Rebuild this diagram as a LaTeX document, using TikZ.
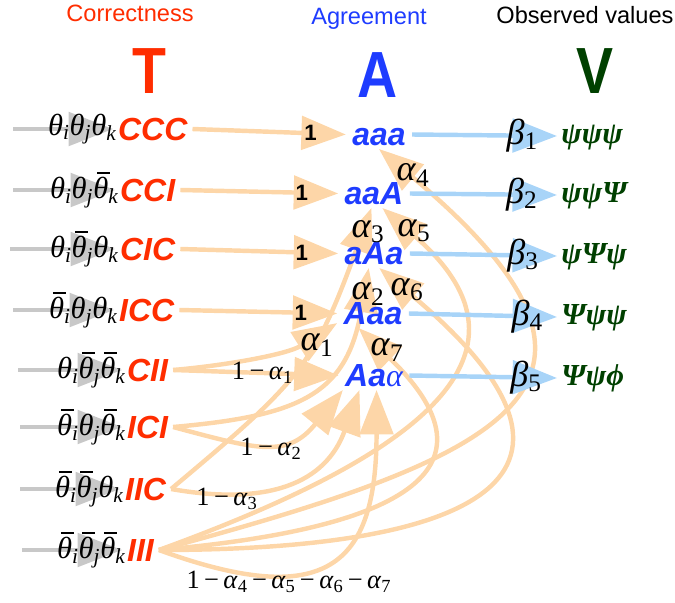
\documentclass[tikz,border=0pt]{standalone}
\usepackage{fontspec}
\setmainfont{Liberation Serif}
\setsansfont{Liberation Sans}
\usetikzlibrary{arrows.meta,positioning,backgrounds}

\definecolor{tred}{HTML}{FF2D00}
\definecolor{ablue}{HTML}{1E3CFF}
\definecolor{vgreen}{HTML}{004000}
\definecolor{peach}{HTML}{FDD6A8}
\definecolor{skyline}{HTML}{A8D4F8}
\definecolor{greyline}{HTML}{C8C8C8}

\newcommand{\thsub}[1]{\textit{θ}\textsubscript{\textit{#1}}}
\newcommand{\thbar}[1]{\makebox[0pt][l]{\hspace{0.12em}\rule[0.8em]{0.42em}{0.075em}}\thsub{#1}}
\newcommand{\alsub}[1]{\textit{α}\textsubscript{#1}}
\newcommand{\besub}[1]{\textit{β}\textsubscript{#1}}

\tikzset{
  toplab/.style={font=\sffamily\fontsize{17}{17}\selectfont, anchor=base},
  bigletter/.style={font=\sffamily\bfseries\fontsize{47}{47}\selectfont, anchor=base},
  tlab/.style={font=\sffamily\bfseries\itshape\fontsize{23}{23}\selectfont, text=tred,
    anchor=west, inner xsep=3.5pt, inner ysep=2pt, text height=16.5pt, text depth=0pt},
  thlab/.style={font=\fontsize{22}{22}\selectfont, inner sep=0pt},
  alab/.style={font=\sffamily\bfseries\itshape\fontsize{23}{23}\selectfont, text=ablue,
    inner xsep=4.5pt, inner ysep=2pt, text height=16.5pt, text depth=0pt},
  vlab/.style={font=\bfseries\itshape\fontsize{22}{22}\selectfont, text=vgreen,
    anchor=west, inner xsep=3pt, text height=15pt, text depth=4.5pt},
  plab/.style={font=\fontsize{26}{26}\selectfont, inner sep=0pt},
  qlab/.style={font=\fontsize{19}{19}\selectfont, inner sep=0pt},
  onelab/.style={font=\sffamily\bfseries\fontsize{16}{16}\selectfont, inner sep=0pt},
  bighead/.style={-{Triangle[length=32pt,width=24pt]}, line width=3.2pt},
  garrow/.style={bighead, draw=greyline},
  oarrow/.style={bighead, draw=peach},
  barrow/.style={bighead, draw=skyline},
}

\begin{document}
\begin{tikzpicture}[x=0.72pt,y=-0.72pt]
  \useasboundingbox (0,0) rectangle (675,603);

  % headings
  \node[toplab, text=tred] (hT) at (130,21) {Correctness};
  \node[toplab, text=ablue] (hA) at (369,24) {Agreement};
  \node[toplab] (hV) at (585,23) {Observed values};
  \node[bigletter, text=tred] (T) at (149,93) {\scalebox{0.85}[1]{T}};
  \node[bigletter, text=ablue] (A) at (378,97) {\scalebox{0.85}[1]{A}};
  \node[bigletter, text=vgreen] (V) at (595,93) {\scalebox{0.85}[1]{V}};

  % correctness states
  \node[tlab] (tCCC) at (113,129) {CCC};
  \node[tlab] (tCCI) at (115,190) {CCI};
  \node[tlab] (tCIC) at (115,249) {CIC};
  \node[tlab] (tICC) at (114,310) {ICC};
  \node[tlab] (tCII) at (122,370) {CII};
  \node[tlab] (tICI) at (122,427) {ICI};
  \node[tlab] (tIIC) at (120,489) {IIC};
  \node[tlab] (tIII) at (122,550) {III};

  \node[thlab, left=-3pt of tCCC] (thCCC) {\thsub{i}\thsub{j}\thsub{k}};
  \node[thlab, left=-3pt of tCCI] (thCCI) {\thsub{i}\thsub{j}\thbar{k}};
  \node[thlab, left=-3pt of tCIC] (thCIC) {\thsub{i}\thbar{j}\thsub{k}};
  \node[thlab, left=-3pt of tICC] (thICC) {\thbar{i}\thsub{j}\thsub{k}};
  \node[thlab, left=-3pt of tCII] (thCII) {\thsub{i}\thbar{j}\thbar{k}};
  \node[thlab, left=-3pt of tICI] (thICI) {\thbar{i}\thsub{j}\thbar{k}};
  \node[thlab, left=-3pt of tIIC] (thIIC) {\thbar{i}\thbar{j}\thsub{k}};
  \node[thlab, left=-3pt of tIII] (thIII) {\thbar{i}\thbar{j}\thbar{k}};

  \coordinate (gCCC) at (13,129);
  \coordinate (gCCI) at (13,190);
  \coordinate (gCIC) at (10,249);
  \coordinate (gICC) at (13,310);
  \coordinate (gCII) at (18,370);
  \coordinate (gICI) at (20,427);
  \coordinate (gIIC) at (20,489);
  \coordinate (gIII) at (22,550);

  % agreement states
  \node[alab] (aaa) at (379,134.5) {aaa};
  \node[alab] (aaA) at (374,193.5) {aaA};
  \node[alab] (aAa) at (374,253.5) {aAa};
  \node[alab] (Aaa) at (373,313.5) {Aaa};
  \node[alab] (Aaalpha) at (374,375.5) {Aa{\rmfamily\mdseries α}};

  % observed values
  \node[vlab] (v1) at (557,136) {ψψψ};
  \node[vlab] (v2) at (557,195) {ψψΨ};
  \node[vlab] (v3) at (557,256) {ψΨψ};
  \node[vlab] (v4) at (557,317) {Ψψψ};
  \node[vlab] (v5) at (557,378) {Ψψϕ};

  % transition labels
  \node[plab] (l1) at (317,345) {\alsub{1}};
  \node[plab] (l2) at (368,294) {\alsub{2}};
  \node[plab] (l3) at (368,232) {\alsub{3}};
  \node[plab] (l4) at (413,175) {\alsub{4}};
  \node[plab] (l5) at (414,231) {\alsub{5}};
  \node[plab] (l6) at (407,290) {\alsub{6}};
  \node[plab] (l7) at (387,350) {\alsub{7}};
  \node[qlab] (m2) at (271,449) {1\,−\,\alsub{2}};
  \node[qlab] (m3) at (227,499) {1\,−\,\alsub{3}};
  \node[qlab] (m4) at (289,582) {1\,−\,\alsub{4}\,−\,\alsub{5}\,−\,\alsub{6}\,−\,\alsub{7}};

  \begin{scope}[on background layer]
    \foreach \r in {CCC,CCI,CIC,ICC,CII,ICI,IIC,III}
      \draw[garrow] (g\r) -- (t\r.west);

    % III fans out
    \draw[oarrow] (tIII.east) to[out=15,in=-40,looseness=2.05] (aaa.south);
    \draw[oarrow] (tIII.east) to[out=20,in=-41,looseness=1.5] (aaA.-60);
    \draw[oarrow] (tIII.east) to[out=0,in=-40,looseness=2.3] (aAa.-70);
    \draw[oarrow] (tIII.east) to[out=5,in=-44,looseness=1.87] (Aaa.-135);
    \draw[oarrow] (tIII.east) to[out=-20,in=-90,looseness=1.68] (Aaalpha.-80);
    % IIC and ICI
    \draw[oarrow] (tIIC.east) to[out=40,in=-110,looseness=1.25] (aaA.-100);
    \draw[oarrow] (tIIC.east) to[out=-10,in=-110,looseness=1.19] (Aaalpha.-135);
    \draw[oarrow] (tICI.east) to[out=5,in=-100,looseness=1.3] (aAa.-110);
    \draw[oarrow] (tICI.east) to[out=-15,in=-129,looseness=1.3] (Aaalpha.-155);
    \draw[oarrow] (tCII.east) to[out=5,in=-148,looseness=.87] (Aaa.-165);

    \draw[oarrow] (tCCC.east) -- node[onelab,pos=.77] (o1) {1} (aaa.west);
    \draw[oarrow] (tCCI.east) -- node[onelab,pos=.77] (o2) {1} (aaA.west);
    \draw[oarrow] (tCIC.east) -- node[onelab,pos=.77] (o3) {1} (aAa.west);
    \draw[oarrow] (tICC.east) -- node[onelab,pos=.77] (o4) {1} (Aaa.west);
    \draw[oarrow] (tCII.east) -- node[qlab,pos=.54] (m1) {1\,−\,\alsub{1}} (Aaalpha.west);

    \draw[barrow] (aaa.east) -- node[plab,pos=.76] (b1) {\besub{1}} (v1.west);
    \draw[barrow] (aaA.east) -- node[plab,pos=.76] (b2) {\besub{2}} (v2.west);
    \draw[barrow] (aAa.east) -- node[plab,pos=.77] (b3) {\besub{3}} (v3.west);
    \draw[barrow] (Aaa.east) -- node[plab,pos=.8] (b4) {\besub{4}} (v4.west);
    \draw[barrow] (Aaalpha.east) -- node[plab,pos=.79] (b5) {\besub{5}} (v5.west);
  \end{scope}
\end{tikzpicture}
\end{document}
